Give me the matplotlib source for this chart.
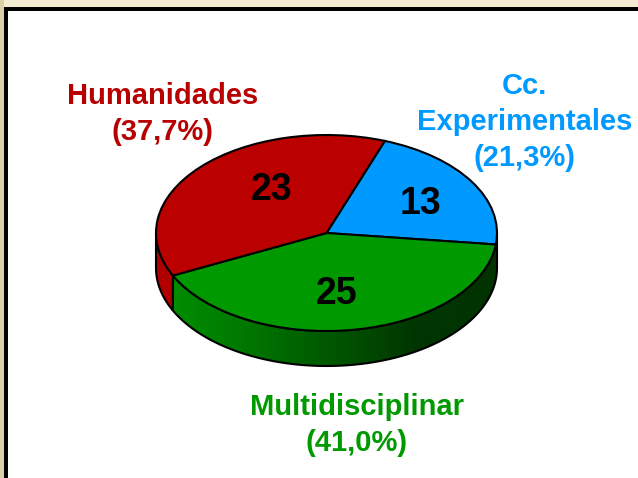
import numpy as np
import matplotlib
matplotlib.use("Agg")
import matplotlib.pyplot as plt
from matplotlib.colors import LinearSegmentedColormap
from matplotlib.patches import PathPatch, Rectangle
from matplotlib.path import Path
from matplotlib.transforms import Affine2D

plt.rcParams["font.family"] = ["Liberation Sans", "DejaVu Sans"]

# Data
categories = ["Cc.\nExperimentales", "Multidisciplinar", "Humanidades"]
counts = [13, 25, 23]
percents = ["(21,3%)", "(41,0%)", "(37,7%)"]

# Colours
top_colors = ["#0099ff", "#009900", "#bb0000"]
text_colors = ["#0099ff", "#009900", "#b80000"]

# Pie geometry in pixels
W, H = 638, 478
cx, cy = 326.5, 233
rx, ry = 170.5, 98
depth = 35
start_angle = 70

fig = plt.figure(figsize=(W / 100, H / 100), dpi=100, facecolor="#f3ebd2")
ax = fig.add_axes([0, 0, 1, 1])

wedges, _ = ax.pie(counts, startangle=start_angle, counterclock=False,
                   colors=top_colors,
                   wedgeprops={"edgecolor": "black", "linewidth": 1.5, "zorder": 5})

# Squash the round pie into an ellipse (y axis points down here)
squash = Affine2D().scale(rx, -ry).translate(cx, cy) + ax.transData
for w in wedges:
    w.set_transform(squash)

ax.set_aspect("auto")
ax.set_xlim(0, W)
ax.set_ylim(H, 0)
ax.axis("off")

# Page background and frame
ax.add_patch(Rectangle((0, 0), 3.5, H, color="#d9cfa8", zorder=0, lw=0))
ax.add_patch(Rectangle((3.5, 6.5), W, H, color="black", zorder=1, lw=0))
ax.add_patch(Rectangle((7.5, 10.5), W, H, color="white", zorder=2, lw=0))


def side_wall(a1, a2):
    # front side of the cake between two angles (degrees, counter clockwise)
    t = np.radians(np.linspace(a1, a2, 120))
    x = cx + rx * np.cos(t)
    y = cy - ry * np.sin(t)
    verts = list(zip(x, y)) + list(zip(x[::-1], y[::-1] + depth))
    verts.append(verts[0])
    codes = [Path.MOVETO] + [Path.LINETO] * (len(verts) - 2) + [Path.CLOSEPOLY]
    return Path(verts, codes)


# Wedge boundaries, going clockwise from the start angle
fracs = np.array(counts) / sum(counts)
bounds = start_angle - np.cumsum(fracs) * 360

# Red side: from the left edge to the red/green boundary
red_wall = side_wall(180, bounds[1] + 360)
ax.add_patch(PathPatch(red_wall, facecolor="#b00000", edgecolor="black", lw=1.5, zorder=4))

# Green side with its dark gradient
green_wall = side_wall(bounds[1] + 360, 360)
green_map = LinearSegmentedColormap.from_list(
    "wall", [(0, "#008c00"), (0.2, "#007a00"), (0.55, "#004f00"), (0.75, "#003500"), (1, "#003300")])
x_lo, x_hi = cx + rx * np.cos(np.radians(bounds[1])), cx + rx
img = ax.imshow(np.linspace(0, 1, 256)[None, :], cmap=green_map, aspect="auto",
                extent=[x_lo, x_hi, cy + ry + depth, cy], zorder=4)
outline = PathPatch(green_wall, facecolor="none", edgecolor="black", lw=1.5, zorder=4.5)
ax.add_patch(outline)
img.set_clip_path(outline)
ax.set_xlim(0, W)
ax.set_ylim(H, 0)

# Numbers on the slices
count_pos = [(420, 204), (337, 294), (272, 190)]
for (x, y), n in zip(count_pos, counts):
    ax.text(x, y, str(n), color="black", fontsize=27, fontweight="bold",
            ha="center", va="center", zorder=6)

# Category labels
label_pos = [(524.5, 122), (357, 425), (162.5, 114)]
for (x, y), name, pct, col in zip(label_pos, categories, percents, text_colors):
    ax.text(x, y, name + "\n" + pct, color=col, fontsize=21, fontweight="bold",
            ha="center", va="center", linespacing=1.38, zorder=6)

fig.savefig("out.png", dpi=100, facecolor=fig.get_facecolor())
